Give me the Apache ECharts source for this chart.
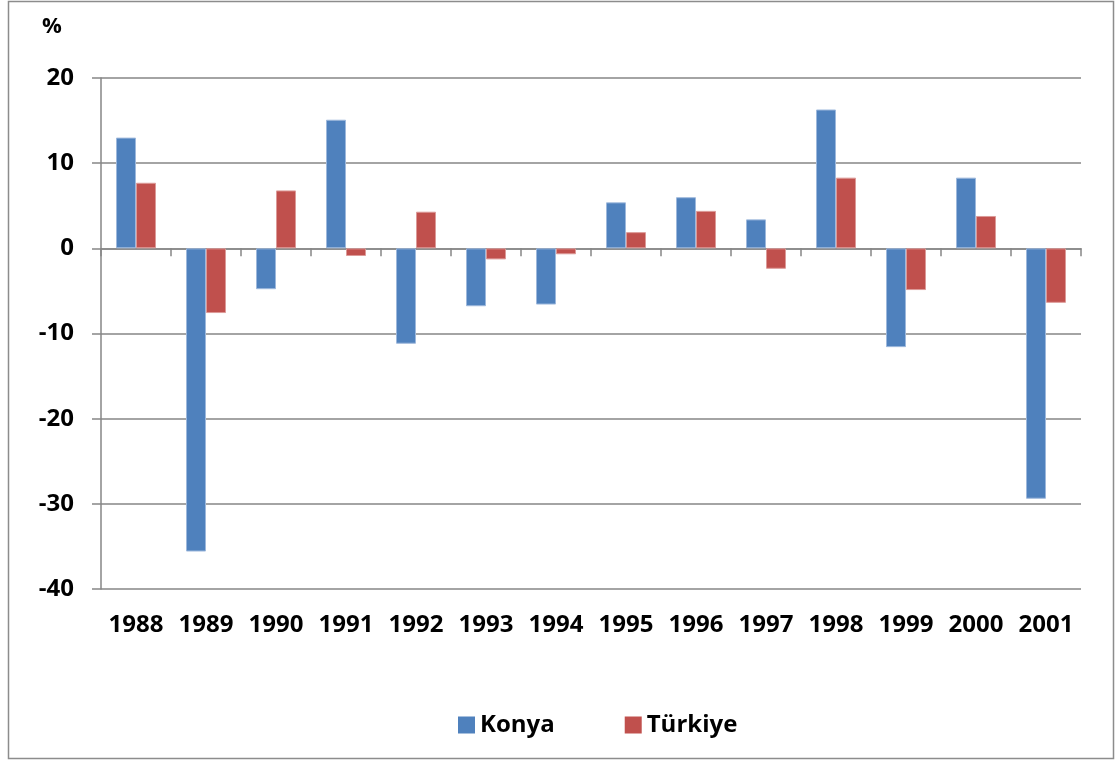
<!DOCTYPE html>
<html>
<head>
<meta charset="utf-8">
<script src="https://cdn.jsdelivr.net/npm/echarts@6/dist/echarts.min.js"></script>
<style>
html,body{margin:0;padding:0;background:#fff;}
#chart{width:1117px;height:765px;}
</style>
</head>
<body>
<div id="chart"></div>
<script>
const years = ['1988','1989','1990','1991','1992','1993','1994','1995','1996','1997','1998','1999','2000','2001'];
const konya = [13.0, -35.6, -4.8, 15.1, -11.2, -6.8, -6.6, 5.4, 6.0, 3.4, 16.3, -11.6, 8.3, -29.4];
const turkiye = [7.7, -7.6, 6.8, -0.9, 4.3, -1.3, -0.7, 1.9, 4.4, -2.4, 8.3, -4.9, 3.8, -6.4];
const seriesNames = ['Konya', 'Türkiye'];
const yTicks = { min: -40, max: 20, interval: 10 };
const unitLabel = '%';

const FONT = '"Open Sans", "Noto Sans", sans-serif';
const chart = echarts.init(document.getElementById('chart'), null, { renderer: 'canvas' });
chart.setOption({
  animation: false,
  backgroundColor: '#ffffff',
  graphic: [
    { type: 'rect', shape: { x: 8.5, y: 1.5, width: 1105, height: 757 }, style: { fill: 'none', stroke: '#8c8c8c', lineWidth: 1.5 }, z: -1 },
    { type: 'text', left: 42, top: 16, style: { text: unitLabel, font: 'bold 22px ' + FONT, fill: '#000' } }
  ],
  grid: { left: 101, right: 36, top: 78, bottom: 176, containLabel: false },
  legend: {
    data: seriesNames,
    left: 453, top: 708,
    icon: 'rect', itemWidth: 17, itemHeight: 17, itemGap: 70, itemTextGap: 7,
    itemStyle: { borderWidth: 0 },
    textStyle: { fontFamily: FONT, fontWeight: 'bold', fontSize: 24, color: '#000' }
  },
  xAxis: [
    {
      type: 'category', data: years, position: 'bottom',
      axisLine: { onZero: true, lineStyle: { color: '#868686', width: 1.5 } },
      axisTick: { show: true, inside: false, length: 8, interval: 0, alignWithLabel: false, lineStyle: { color: '#868686', width: 1.5 } },
      axisLabel: { show: false },
      splitLine: { show: false }
    },
    {
      type: 'category', data: years, position: 'bottom',
      axisLine: { show: false, onZero: false },
      axisTick: { show: false },
      axisLabel: { show: true, interval: 0, margin: 24, fontFamily: FONT, fontWeight: 'bold', fontSize: 24, color: '#000' },
      splitLine: { show: false }
    }
  ],
  yAxis: {
    type: 'value', min: yTicks.min, max: yTicks.max, interval: yTicks.interval,
    axisLine: { show: true, onZero: false, lineStyle: { color: '#868686', width: 1.5 } },
    axisTick: { show: true, length: 9, lineStyle: { color: '#868686', width: 1.5 } },
    axisLabel: { margin: 27, fontFamily: FONT, fontWeight: 'bold', fontSize: 24, color: '#000' },
    splitLine: { show: true, lineStyle: { color: '#868686', width: 1.5 } }
  },
  series: [
    {
      name: seriesNames[0], type: 'bar', data: konya, xAxisIndex: 0,
      barWidth: 20, barGap: '0%',
      itemStyle: { color: '#4F81BD', borderColor: '#9db8dc', borderWidth: 1 }
    },
    {
      name: seriesNames[1], type: 'bar', data: turkiye, xAxisIndex: 0,
      barWidth: 20, barGap: '0%',
      itemStyle: { color: '#C0504D', borderColor: '#dc9a98', borderWidth: 1 }
    }
  ]
});
</script>
</body>
</html>
